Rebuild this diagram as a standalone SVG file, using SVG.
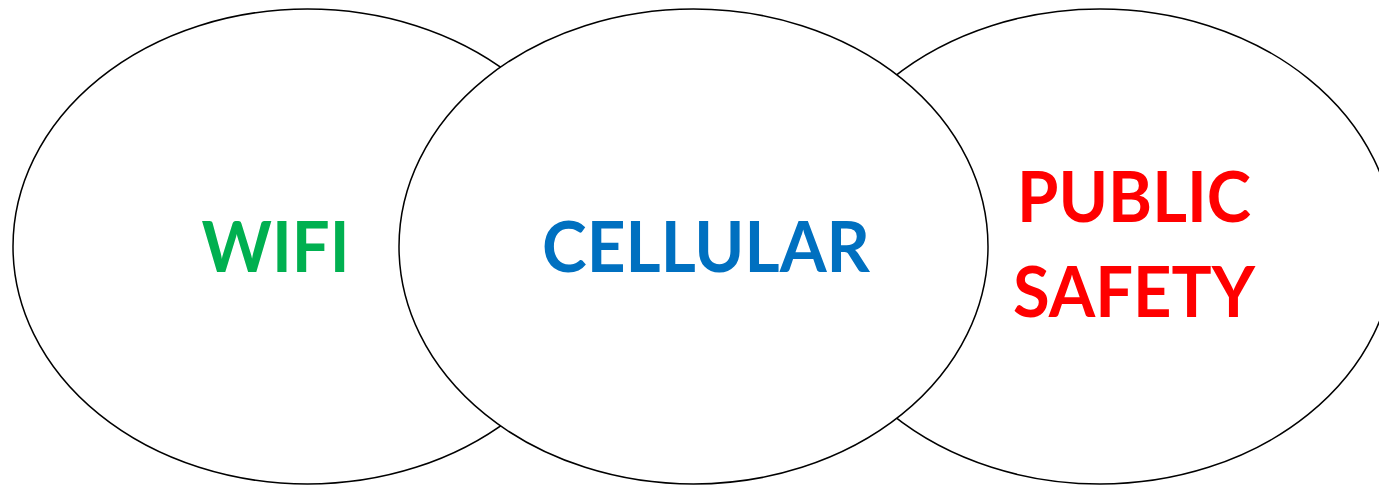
<svg xmlns="http://www.w3.org/2000/svg" width="1379" height="485" viewBox="0 0 1379 485">
  <style>
    .oval { fill: #ffffff; stroke: #000000; stroke-width: 1.5; }
    .lbl { font-family: Lato, "Open Sans", "Liberation Sans", sans-serif; font-weight: bold; font-size: 71px; text-anchor: middle; }
    .wifi { fill: #00B050; }
    .cell { fill: #0070C0; }
    .ps { fill: #FF0000; }
  </style>
  <rect x="0" y="0" width="1379" height="485" fill="#ffffff"/>
  <g id="node-wifi">
    <ellipse class="oval" cx="307.5" cy="246.5" rx="294.5" ry="237.5"/>
    <text class="lbl wifi" x="275.5" y="271.5" textLength="148" lengthAdjust="spacingAndGlyphs">WIFI</text>
  </g>
  <g id="node-public-safety">
    <ellipse class="oval" cx="1100" cy="246.5" rx="294.5" ry="237.5"/>
    <text class="lbl ps" x="1134" y="221.5" textLength="234" lengthAdjust="spacingAndGlyphs">PUBLIC</text>
    <text class="lbl ps" x="1134" y="317" textLength="242" lengthAdjust="spacingAndGlyphs">SAFETY</text>
  </g>
  <g id="node-cellular">
    <ellipse class="oval" cx="693.5" cy="246.5" rx="294.5" ry="237.5"/>
    <text class="lbl cell" x="706" y="271.5" textLength="328" lengthAdjust="spacingAndGlyphs">CELLULAR</text>
  </g>
  <g id="connectors"></g>
</svg>
